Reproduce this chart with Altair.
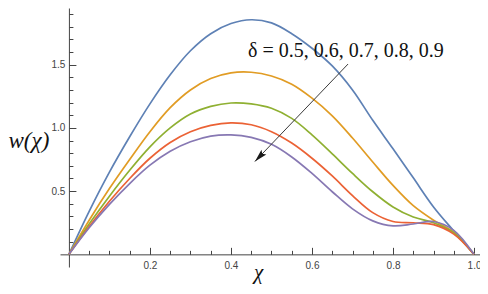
import altair as alt
import pandas as pd

# ---- data ----
chi = [0.0, 0.05, 0.1, 0.15, 0.2, 0.25, 0.3, 0.35, 0.4, 0.45, 0.5,
       0.55, 0.6, 0.65, 0.7, 0.75, 0.8, 0.85, 0.9, 0.95, 1.0]
w_05 = [0, 0.34, 0.65, 0.93, 1.19, 1.42, 1.61, 1.745, 1.825, 1.855, 1.83,
        1.745, 1.63, 1.49, 1.30, 1.06, 0.835, 0.605, 0.375, 0.185, 0]
w_06 = [0, 0.27, 0.52, 0.75, 0.97, 1.16, 1.30, 1.39, 1.435, 1.44, 1.41,
        1.345, 1.235, 1.095, 0.92, 0.73, 0.545, 0.385, 0.27, 0.175, 0]
w_07 = [0, 0.24, 0.46, 0.665, 0.85, 1.0, 1.11, 1.17, 1.197, 1.19, 1.155,
        1.075, 0.945, 0.795, 0.64, 0.495, 0.375, 0.295, 0.25, 0.17, 0]
w_08 = [0, 0.22, 0.42, 0.60, 0.76, 0.885, 0.97, 1.02, 1.04, 1.025, 0.97,
        0.88, 0.76, 0.62, 0.465, 0.33, 0.26, 0.25, 0.235, 0.16, 0]
w_09 = [0, 0.21, 0.395, 0.56, 0.705, 0.815, 0.89, 0.935, 0.945, 0.925, 0.87,
        0.77, 0.64, 0.495, 0.36, 0.265, 0.225, 0.24, 0.26, 0.19, 0]
deltas = ["0.5", "0.6", "0.7", "0.8", "0.9"]
series = [w_05, w_06, w_07, w_08, w_09]
colors = ["#5E81B5", "#E19C24", "#8FB032", "#EB6235", "#8778B3"]

x_major = [0.2, 0.4, 0.6, 0.8, 1.0]
x_minor = [0.05, 0.1, 0.15, 0.25, 0.3, 0.35, 0.45, 0.5, 0.55, 0.65, 0.7,
           0.75, 0.85, 0.9, 0.95]
y_major = [0.5, 1.0, 1.5]
y_minor = [0.1, 0.2, 0.3, 0.4, 0.6, 0.7, 0.8, 0.9, 1.1, 1.2, 1.3, 1.4,
           1.6, 1.7, 1.8, 1.9]

x_domain = [-0.022, 1.0147]
y_domain = [-0.1, 1.948]

annot_text = ["δ = 0.5, 0.6, 0.7, 0.8, 0.9"]
annot_x = [0.442]
annot_y = [1.5625]
arrow_x1, arrow_y1 = [0.689], [1.505]
arrow_x2, arrow_y2 = [0.459], [0.734]
head_x, head_y = [0.473], [0.781]

# ---- build tables ----
rows = []
for d, ys in zip(deltas, series):
    for xv, yv in zip(chi, ys):
        rows.append({"chi": xv, "w": yv, "delta": d})
df = pd.DataFrame(rows)

W, H = 420, 259
x0_px = W * (0 - x_domain[0]) / (x_domain[1] - x_domain[0])
y0_px = H * (y_domain[1] - 0) / (y_domain[1] - y_domain[0])

xs = alt.Scale(domain=x_domain, nice=False, zero=False)
ysc = alt.Scale(domain=y_domain, nice=False, zero=False)
AX = "#444444"

base = alt.Chart(df)

lines = base.mark_line(strokeWidth=1.7, interpolate="catmull-rom").encode(
    x=alt.X("chi:Q", scale=xs,
            axis=alt.Axis(orient="top", offset=-y0_px, values=x_major,
                          tickSize=7, labels=False, grid=False, domain=True,
                          domainColor=AX, tickColor=AX, title="")),
    y=alt.Y("w:Q", scale=ysc,
            axis=alt.Axis(orient="right", offset=-(W - x0_px), values=y_major,
                          tickSize=7, labels=False, grid=False, domain=True,
                          domainColor=AX, tickColor=AX, title="")),
    color=alt.Color("delta:N", scale=alt.Scale(domain=deltas, range=colors),
                    legend=None),
    detail="delta:N",
)

minor = base.mark_line(opacity=0).encode(
    x=alt.X("chi:Q", scale=xs,
            axis=alt.Axis(orient="top", offset=-y0_px, values=x_minor,
                          tickSize=4, labels=False, grid=False, domain=False,
                          tickColor=AX, title="")),
    y=alt.Y("w:Q", scale=ysc,
            axis=alt.Axis(orient="right", offset=-(W - x0_px), values=y_minor,
                          tickSize=4, labels=False, grid=False, domain=False,
                          tickColor=AX, title="")),
    detail="delta:N",
)

labels = base.mark_line(opacity=0).encode(
    x=alt.X("chi:Q", scale=xs,
            axis=alt.Axis(orient="bottom", offset=-(H - y0_px), values=x_major,
                          ticks=False, tickSize=0, domain=False, grid=False,
                          labelPadding=6, format=".1f",
                          labelFont="Liberation Sans", labelFontSize=10,
                          labelColor="#444444",
                          title="χ", titleFont="Liberation Serif",
                          titleFontStyle="italic", titleFontWeight="normal",
                          titleFontSize=21, titleColor="#111111",
                          titleX=258 - 60, titleY=278.5 - 254.35,
                          titleAlign="center", titleBaseline="alphabetic")),
    y=alt.Y("w:Q", scale=ysc,
            axis=alt.Axis(orient="left", offset=-x0_px, values=y_major,
                          ticks=False, tickSize=0, domain=False, grid=False,
                          labelPadding=4, format=".1f",
                          labelFont="Liberation Sans", labelFontSize=10,
                          labelColor="#444444",
                          title="w(χ)", titleFont="Liberation Serif",
                          titleFontStyle="italic", titleFontWeight="normal",
                          titleFontSize=23, titleColor="#111111",
                          titleAngle=0, titleX=8 - 68.9, titleY=147 - 8,
                          titleAlign="left", titleBaseline="alphabetic")),
    detail="delta:N",
)

arrow_df = pd.DataFrame({"x1": arrow_x1, "y1": arrow_y1,
                         "x2": arrow_x2, "y2": arrow_y2})
arrow = alt.Chart(arrow_df).mark_rule(color="#3a3a3a", strokeWidth=1).encode(
    x=alt.X("x1:Q", scale=xs, axis=None),
    y=alt.Y("y1:Q", scale=ysc, axis=None),
    x2="x2:Q", y2="y2:Q",
)

head_df = pd.DataFrame({"x": head_x, "y": head_y})
head = alt.Chart(head_df).mark_point(
    shape="M0,-1L0.42,0.6L0,0.3L-0.42,0.6Z", filled=True, size=260,
    angle=224, color="#1a1a1a", opacity=1,
).encode(
    x=alt.X("x:Q", scale=xs, axis=None),
    y=alt.Y("y:Q", scale=ysc, axis=None),
)

text_df = pd.DataFrame({"x": annot_x, "y": annot_y, "t": annot_text})
text = alt.Chart(text_df).mark_text(
    font="Liberation Serif", fontSize=20, align="left",
    baseline="alphabetic", color="#111111",
).encode(
    x=alt.X("x:Q", scale=xs, axis=None),
    y=alt.Y("y:Q", scale=ysc, axis=None),
    text="t:N",
)

chart = alt.layer(lines, minor, labels, arrow, head, text).resolve_scale(
    x="shared", y="shared"
).resolve_axis(
    x="independent", y="independent"
).properties(
    width=W, height=H,
    autosize=alt.AutoSizeParams(type="none"),
    padding={"left": 52, "top": 0, "right": 0, "bottom": 19},
).configure_view(strokeWidth=0)

chart.save("out.html", embed_options={"renderer": "svg", "actions": False})
